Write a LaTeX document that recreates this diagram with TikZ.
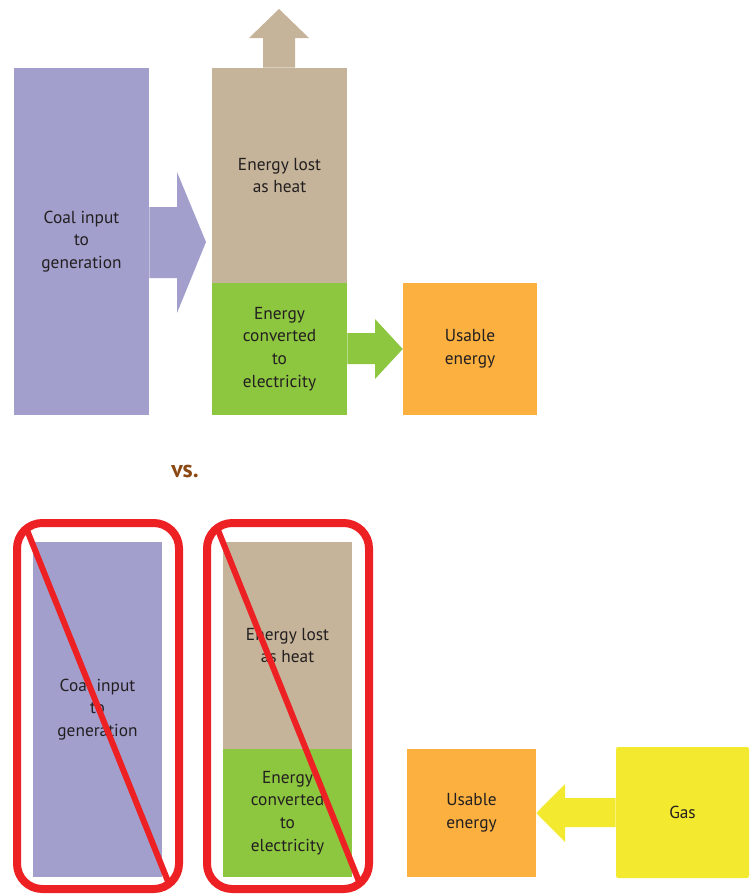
\documentclass[tikz,border=0pt]{standalone}
\usepackage{fontspec}
\setmainfont{PT Sans}
\usepackage{xcolor}
\usetikzlibrary{positioning, calc}
\definecolor{coalc}{RGB}{162,159,205}
\definecolor{heatc}{RGB}{197,180,154}
\definecolor{elecc}{RGB}{141,198,63}
\definecolor{usec}{RGB}{251,176,64}
\definecolor{gasc}{RGB}{243,234,47}
\definecolor{crossc}{RGB}{237,32,36}
\definecolor{vsc}{RGB}{139,72,18}
\definecolor{txt}{RGB}{35,31,32}

\begin{document}
\begin{tikzpicture}[
  x=0.75pt, y=-0.75pt,
  every node/.style={font=\fontsize{13}{17}\selectfont, text=txt},
  box/.style 2 args={inner sep=0pt, align=center,
              minimum width=#1*0.75pt, minimum height=#2*0.75pt},
  cross/.style={draw=crossc, line width=6pt, rounded corners=19pt},
  slash/.style={draw=crossc, line width=4.5pt},
]
  \useasboundingbox (0,0) rectangle (753,896);

  % Top row: coal plant
  \node[box={135}{347}, fill=coalc] (coal) at (81.5,241.5) {Coal input\\to\\generation};
  \node[box={135}{215}, fill=heatc] (heat) at (279.5,175.5) {Energy lost\\as heat};
  \node[box={135}{132}, fill=elecc] (elec) at (279.5,349) {Energy\\converted\\to\\electricity};
  \node[box={134}{132}, fill=usec] (use) at (470,349) {Usable\\energy};

  % Block arrows
  \fill[coalc] (coal.east |- 0,207) -- (177,207) -- (177,172) -- (206,242)
    -- (177,313) -- (177,278) -- (coal.east |- 0,278) -- cycle;
  \fill[heatc] (263,0 |- heat.north) -- (263,38) -- (249,38) -- (279,9)
    -- (309,38) -- (295,38) -- (295,0 |- heat.north) -- cycle;
  \fill[elecc] (elec.east |- 0,333) -- (375,333) -- (375,319) -- (use.west)
    -- (375,379) -- (375,364) -- (elec.east |- 0,364) -- cycle;

  \node[font=\fontsize{18}{20}\selectfont\bfseries, text=vsc] (vs) at (185,471) {vs.};

  % Bottom row: gas direct
  \node[box={129}{335}, fill=coalc] (coal2) at (97.5,709.5) {Coal input\\to\\generation};
  \node[box={129}{207}, fill=heatc] (heat2) at (287.5,645.5) {Energy lost\\as heat};
  \node[box={129}{128}, fill=elecc] (elec2) at (287.5,813) {Energy\\converted\\to\\electricity};
  \node[box={129}{128}, fill=usec] (use2) at (471.5,813) {Usable\\energy};
  \node[box={133}{131}, fill=gasc, rounded corners=1.5pt] (gas) at (682.5,812.5) {Gas};

  \fill[gasc] (gas.west |- 0,798) -- (565,798) -- (565,784) -- (use2.east)
    -- (565,842) -- (565,827) -- (gas.west |- 0,827) -- cycle;

  % Crossed out
  \draw[cross] (17,523) rectangle (179,889);
  \draw[slash] (27,530) -- (169,884);
  \draw[cross] (207,523) rectangle (369,889);
  \draw[slash] (218,530) -- (360,884);
\end{tikzpicture}
\end{document}
